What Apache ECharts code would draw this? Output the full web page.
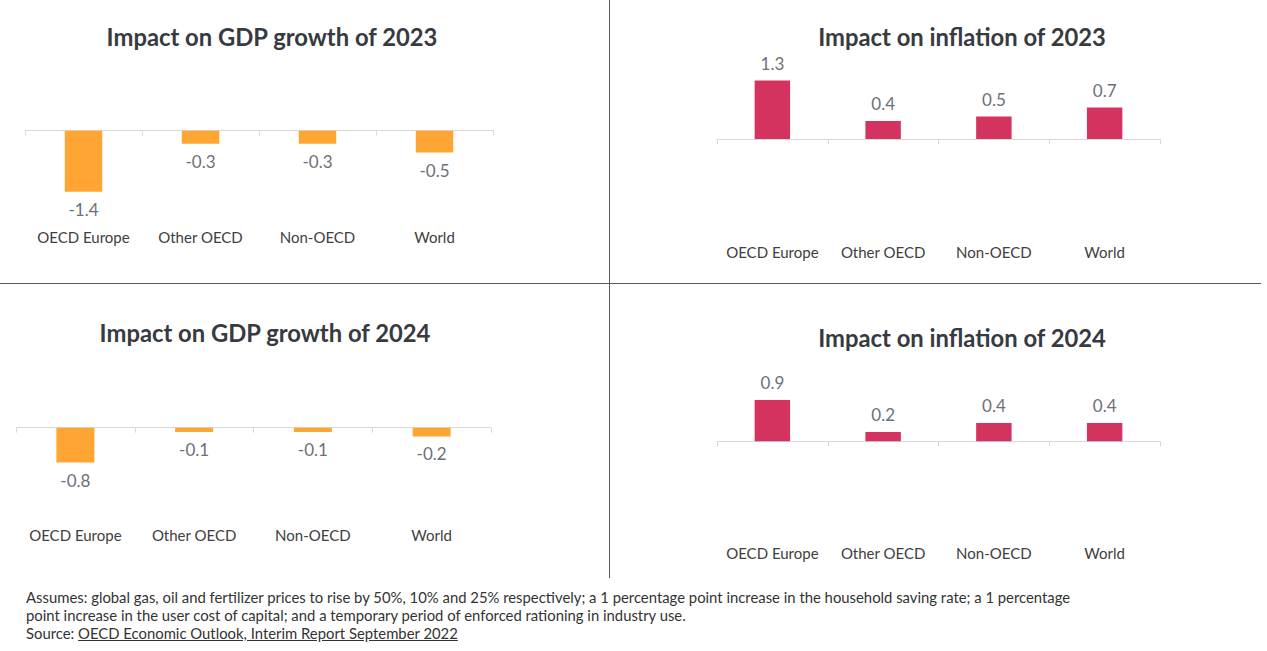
<!DOCTYPE html>
<html>
<head>
<meta charset="utf-8">
<script src="https://cdn.jsdelivr.net/npm/echarts@6/dist/echarts.min.js"></script>
<style>
  html, body { margin: 0; padding: 0; background: #fff; }
  #chart { width: 1267px; height: 651px; position: absolute; left: 0; top: 0; }
  #note { position: absolute; left: 26px; top: 588px; font-family: Lato, sans-serif; font-size: 14.85px; line-height: 18px; color: #333; white-space: nowrap; }
  #note a { color: #333; text-decoration: underline; }
</style>
</head>
<body>
<div id="chart"></div>
<div id="note">Assumes: global gas, oil and fertilizer prices to rise by 50%, 10% and 25% respectively; a 1 percentage point increase in the household saving rate; a 1 percentage<br>point increase in the user cost of capital; and a temporary period of enforced rationing in industry use.<br>Source: <a href="#">OECD Economic Outlook, Interim Report September 2022</a></div>
<script>
const categories = ['OECD Europe', 'Other OECD', 'Non-OECD', 'World'];
const gdp2023 = [-1.4, -0.3, -0.3, -0.5];
const inflation2023 = [1.3, 0.4, 0.5, 0.7];
const gdp2024 = [-0.8, -0.1, -0.1, -0.2];
const inflation2024 = [0.9, 0.2, 0.4, 0.4];
const titles = ['Impact on GDP growth of 2023', 'Impact on inflation of 2023', 'Impact on GDP growth of 2024', 'Impact on inflation of 2024'];

const FONT = 'Lato';
const ORANGE = '#FFA533';
const RED = '#D4325F';

const panels = [
  { data: gdp2023, color: ORANGE, pos: 'bottom', grid: { left: 25, width: 468, top: 130.7, height: 87.2 }, min: -2, max: 0, margin: 12, tx: 272, ty: 25 },
  { data: inflation2023, color: RED, pos: 'top', grid: { left: 717, width: 443, top: 71.5, height: 157.5 }, min: -2, max: 1.5, margin: 15, tx: 962, ty: 25 },
  { data: gdp2024, color: ORANGE, pos: 'bottom', grid: { left: 16, width: 475, top: 427.7, height: 87 }, min: -2, max: 0, margin: 12.8, tx: 265, ty: 321 },
  { data: inflation2024, color: RED, pos: 'top', grid: { left: 717, width: 443, top: 372.3, height: 161 }, min: -2, max: 1.5, margin: 12, tx: 962, ty: 326 }
];

const option = {
  animation: false,
  title: [],
  grid: [],
  xAxis: [],
  yAxis: [],
  series: [],
  graphic: [
    { type: 'line', shape: { x1: 609.5, y1: 0, x2: 609.5, y2: 578 }, style: { stroke: '#595959', lineWidth: 1 } },
    { type: 'line', shape: { x1: 0, y1: 283.5, x2: 1261, y2: 283.5 }, style: { stroke: '#595959', lineWidth: 1 } }
  ]
};

panels.forEach((p, i) => {
  option.title.push({
    text: titles[i], left: p.tx, top: p.ty, textAlign: 'center', padding: 0,
    textStyle: { fontFamily: FONT, fontWeight: 'bold', fontSize: 23.8, lineHeight: 24, color: '#373A3F' }
  });
  option.grid.push({ left: p.grid.left, width: p.grid.width, top: p.grid.top, height: p.grid.height, containLabel: false });
  option.yAxis.push({ type: 'value', gridIndex: i, min: p.min, max: p.max, show: false, splitLine: { show: false } });
  option.xAxis.push({
    type: 'category', gridIndex: i, data: categories, position: 'bottom',
    axisLine: { show: true, onZero: true, lineStyle: { color: '#D9D9D9', width: 1 } },
    axisTick: { show: true, length: 5, lineStyle: { color: '#D9D9D9' } },
    axisLabel: { show: false }
  });
  option.xAxis.push({
    type: 'category', gridIndex: i, data: categories, position: 'bottom',
    axisLine: { show: false, onZero: false }, axisTick: { show: false },
    axisLabel: { show: true, interval: 0, margin: p.margin, fontFamily: FONT, fontSize: 15, lineHeight: 15, color: '#404040' }
  });
  option.series.push({
    type: 'bar', xAxisIndex: i * 2, yAxisIndex: i, data: p.data, barWidth: '32%',
    itemStyle: { color: p.color },
    label: { show: true, position: p.pos, distance: 9, fontFamily: FONT, fontSize: 17, lineHeight: 17, color: '#6B7079' }
  });
});

const chart = echarts.init(document.getElementById('chart'), null, { renderer: 'svg' });
chart.setOption(option);
</script>
</body>
</html>
